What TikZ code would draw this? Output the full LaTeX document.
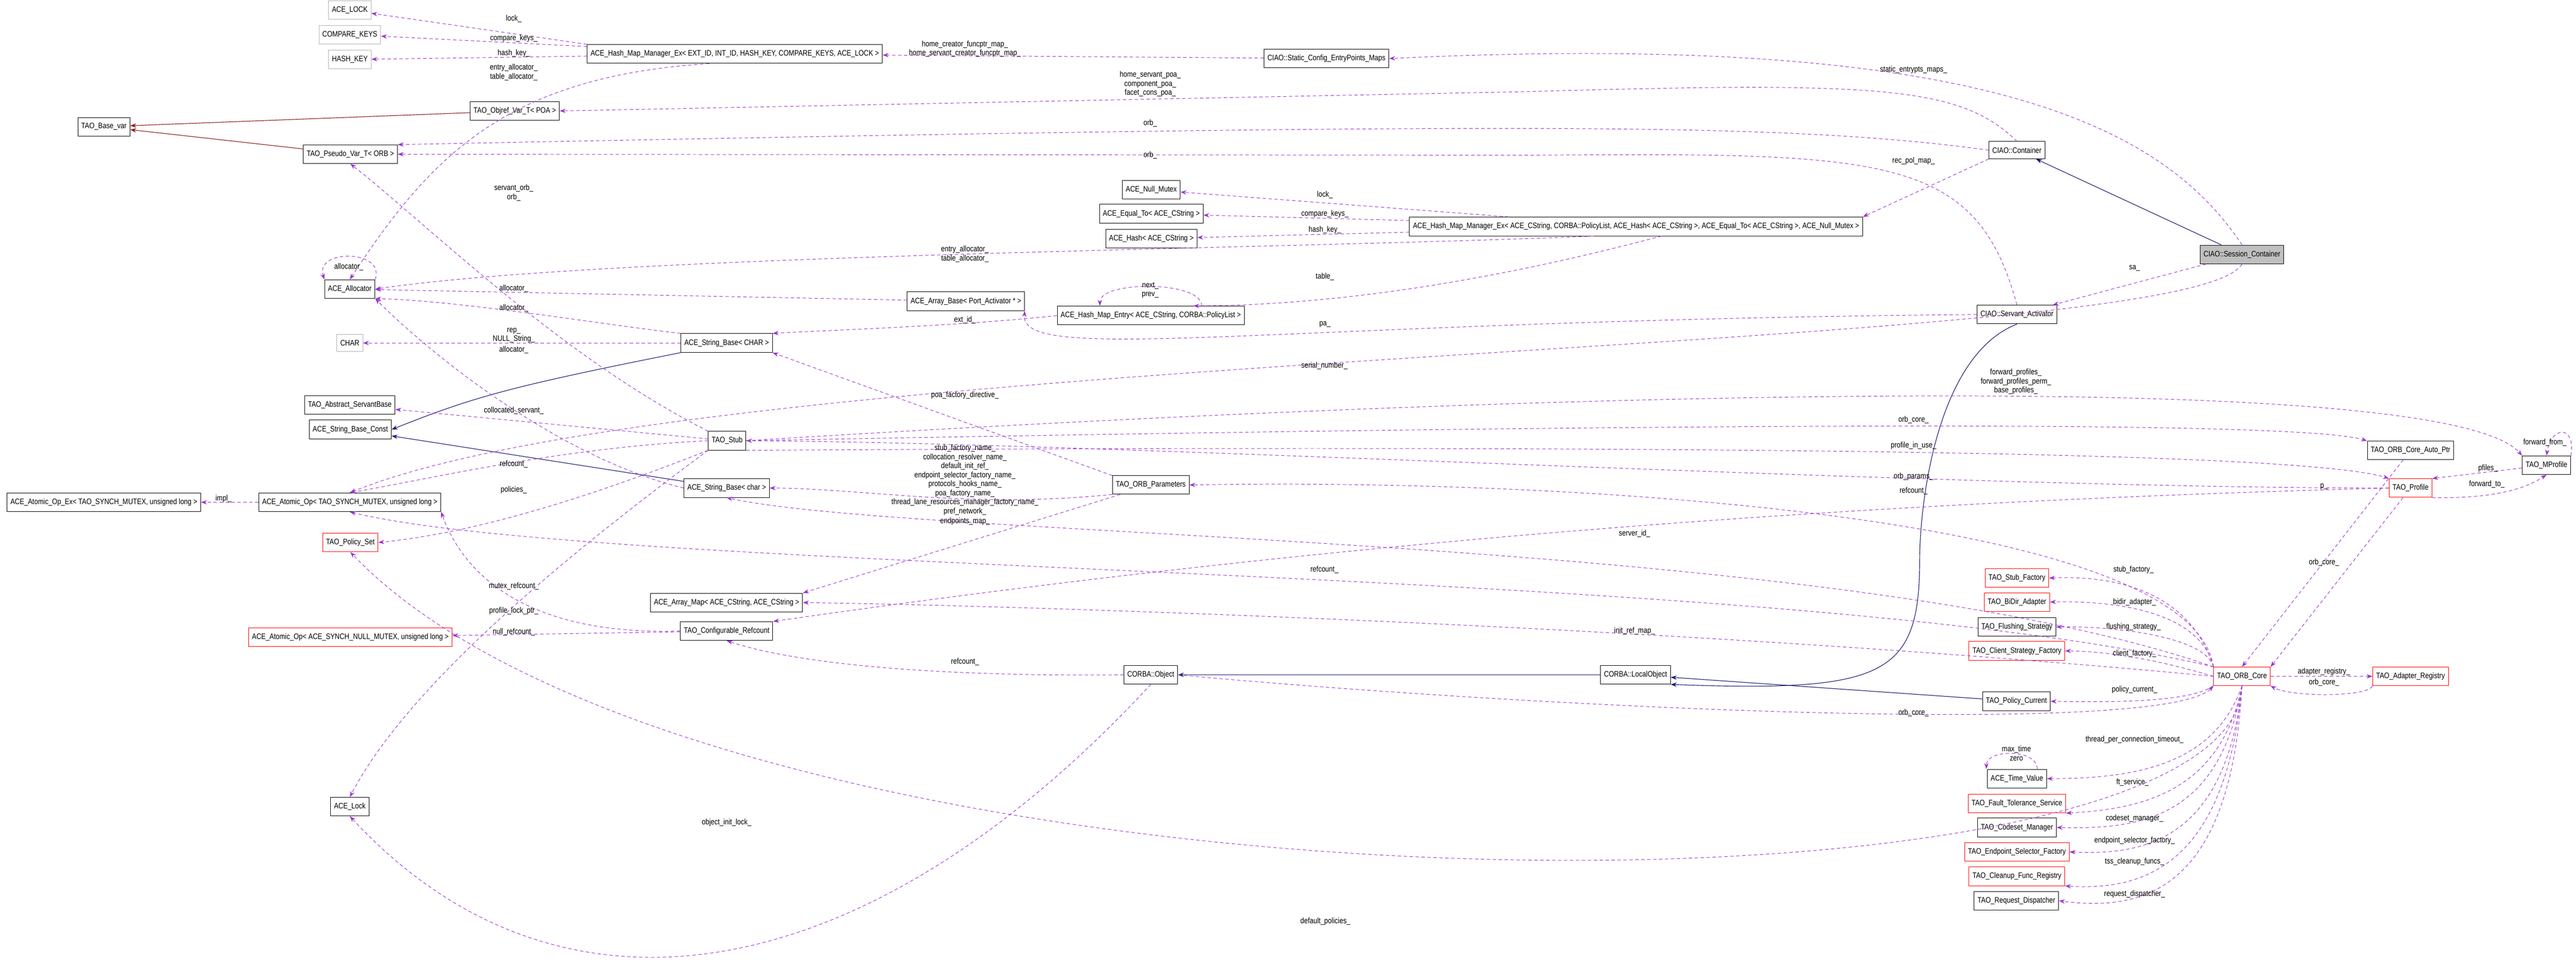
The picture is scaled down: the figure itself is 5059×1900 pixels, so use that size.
\documentclass[tikz,border=0pt]{standalone}
\usepackage{fontspec}
\setmainfont{Liberation Sans}[FakeStretch=0.84]
\usetikzlibrary{arrows.meta}
\definecolor{memb}{HTML}{9A32CD}
\definecolor{inh}{HTML}{191970}
\definecolor{tpl}{HTML}{8B1A1A}
\newcommand{\lblfont}{\fontsize{4.7}{5.3}\selectfont}
\tikzset{
  cls/.style={draw=black, fill=white, font=\lblfont, inner xsep=2pt, minimum height=7.5pt, line width=0.3pt},
  ext/.style={cls, draw=gray!60},
  trunc/.style={cls, draw=red},
  member/.style={draw=memb, dashed, dash pattern=on 2pt off 1.5pt, line width=0.3pt, -{Stealth[length=3.5pt,width=2.5pt]}},
  pub/.style={draw=inh, line width=0.35pt, -{Stealth[length=3.5pt,width=2.5pt]}},
  tmpl/.style={draw=tpl, line width=0.35pt, -{Stealth[length=3.5pt,width=2.5pt]}},
  lbl/.style={font=\lblfont, inner sep=0pt, align=center}
}
\begin{document}
\begin{tikzpicture}[x=0.3pt,y=0.3pt]
\useasboundingbox (0,0) rectangle (5059,-1900);
% classes, left part
\node[ext] (lock) at (687,-20) {ACE\_LOCK};
\node[ext] (cmpkeys) at (687,-68) {COMPARE\_KEYS};
\node[ext] (hashkey) at (687,-117) {HASH\_KEY};
\node[cls] (hmmext) at (1443,-106) {ACE\_Hash\_Map\_Manager\_Ex< EXT\_ID, INT\_ID, HASH\_KEY, COMPARE\_KEYS, ACE\_LOCK >};
\node[cls] (objref) at (1011,-218) {TAO\_Objref\_Var\_T< POA >};
\node[cls] (basevar) at (204,-249) {TAO\_Base\_var};
\node[cls] (pseudo) at (688,-303) {TAO\_Pseudo\_Var\_T< ORB >};
\node[cls] (alloc) at (687,-568) {ACE\_Allocator};
\node[ext] (charn) at (687,-674) {CHAR};
\node[cls] (strCHAR) at (1427,-674) {ACE\_String\_Base< CHAR >};
\node[cls] (servbase) at (687,-796) {TAO\_Abstract\_ServantBase};
\node[cls] (strconst) at (688,-844) {ACE\_String\_Base\_Const};
\node[cls] (stub) at (1428,-866) {TAO\_Stub};
\node[cls] (strchar) at (1427,-959) {ACE\_String\_Base< char >};
\node[cls] (atomex) at (204,-987) {ACE\_Atomic\_Op\_Ex< TAO\_SYNCH\_MUTEX, unsigned long >};
\node[cls] (atomtao) at (687,-987) {ACE\_Atomic\_Op< TAO\_SYNCH\_MUTEX, unsigned long >};
\node[trunc] (polset) at (688,-1066) {TAO\_Policy\_Set};
\node[cls] (arrmap) at (1427,-1184) {ACE\_Array\_Map< ACE\_CString, ACE\_CString >};
\node[cls] (confref) at (1427,-1240) {TAO\_Configurable\_Refcount};
\node[trunc] (atomnull) at (688,-1252) {ACE\_Atomic\_Op< ACE\_SYNCH\_NULL\_MUTEX, unsigned long >};
\node[cls] (acelock) at (687,-1585) {ACE\_Lock};
% classes, middle part
\node[cls] (statcfg) at (2605,-115) {CIAO::Static\_Config\_EntryPoints\_Maps};
\node[cls] (nullmtx) at (2261,-373) {ACE\_Null\_Mutex};
\node[cls] (equalto) at (2261,-420) {ACE\_Equal\_To< ACE\_CString >};
\node[cls] (hashcs) at (2261,-469) {ACE\_Hash< ACE\_CString >};
\node[cls] (hmmcs) at (3213,-445) {ACE\_Hash\_Map\_Manager\_Ex< ACE\_CString, CORBA::PolicyList, ACE\_Hash< ACE\_CString >, ACE\_Equal\_To< ACE\_CString >, ACE\_Null\_Mutex >};
\node[cls] (arrbase) at (1897,-592) {ACE\_Array\_Base< Port\_Activator * >};
\node[cls] (hmentry) at (2260,-620) {ACE\_Hash\_Map\_Entry< ACE\_CString, CORBA::PolicyList >};
\node[cls] (orbparams) at (2260,-953) {TAO\_ORB\_Parameters};
\node[cls] (corbaobj) at (2260,-1326) {CORBA::Object};
\node[cls] (localobj) at (3212,-1326) {CORBA::LocalObject};
% classes, right part
\node[cls] (container) at (3961,-295) {CIAO::Container};
\node[cls, fill=gray!50] (session) at (4403,-500) {CIAO::Session\_Container};
\node[cls] (servact) at (3961,-618) {CIAO::Servant\_Activator};
\node[cls] (autoptr) at (4734,-885) {TAO\_ORB\_Core\_Auto\_Ptr};
\node[cls] (mprofile) at (5001,-914) {TAO\_MProfile};
\node[trunc] (profile) at (4734,-959) {TAO\_Profile};
\node[trunc] (stubfac) at (3961,-1136) {TAO\_Stub\_Factory};
\node[trunc] (bidir) at (3961,-1183) {TAO\_BiDir\_Adapter};
\node[cls] (flush) at (3961,-1232) {TAO\_Flushing\_Strategy};
\node[trunc] (clistrat) at (3961,-1279) {TAO\_Client\_Strategy\_Factory};
\node[trunc] (orbcore) at (4403,-1329) {TAO\_ORB\_Core};
\node[trunc] (adreg) at (4734,-1329) {TAO\_Adapter\_Registry};
\node[cls] (polcur) at (3960,-1378) {TAO\_Policy\_Current};
\node[cls] (timeval) at (3961,-1530) {ACE\_Time\_Value};
\node[trunc] (ftserv) at (3961,-1579) {TAO\_Fault\_Tolerance\_Service};
\node[cls] (codeset) at (3961,-1626) {TAO\_Codeset\_Manager};
\node[trunc] (endpt) at (3961,-1674) {TAO\_Endpoint\_Selector\_Factory};
\node[trunc] (cleanup) at (3961,-1722) {TAO\_Cleanup\_Func\_Registry};
\node[cls] (reqdisp) at (3960,-1770) {TAO\_Request\_Dispatcher};

% inheritance
\draw[tmpl] (objref) -- (basevar);
\draw[tmpl] (pseudo) -- (basevar);
\draw[pub] (strCHAR.south west) .. controls (1000,-760) and (930,-780) .. (strconst.east);
\draw[pub] (strchar) -- (strconst);
\draw[pub] (localobj) -- (corbaobj);
\draw[pub] (polcur) -- (localobj);
\draw[pub] (servact.south) .. controls (3800,-700) and (3770,-1000) .. (3770,-1100) .. controls (3770,-1330) and (3700,-1360) .. (localobj.south east);
\draw[pub] (session) -- (container);

% members, left part
\draw[member] (hmmext.north west) -- (lock);
\draw[member] (hmmext) -- (cmpkeys);
\draw[member] (hmmext) -- (hashkey);
\draw[member] ([xshift=-15pt]hmmext.south) .. controls (1000,-150) and (850,-300) .. (alloc.north);
\draw[member] (statcfg) -- (hmmext);
\draw[member] (alloc.north east) .. controls +(20,60) and +(-20,60) .. (alloc.north west);
\draw[member] (arrbase) -- (alloc);
\draw[member] (strCHAR.north west) .. controls (1200,-640) and (900,-590) .. (alloc.south east);
\draw[member] (strCHAR) -- (charn);
\draw[member] (strchar.west) .. controls (1100,-900) and (850,-700) .. (alloc.south east);
\draw[member] (stub) -- (servbase);
\draw[member] (stub.west) .. controls (1100,-880) and (850,-940) .. (atomtao.north);
\draw[member] (stub.south west) .. controls (1100,-1000) and (900,-1050) .. (polset.east);
\draw[member] (stub.north west) .. controls (1100,-700) and (850,-450) .. (pseudo.south);
\draw[member] (stub.south west) .. controls (1100,-1100) and (800,-1350) .. (acelock.north);
\draw[member] (atomtao) -- (atomex);
\draw[member] (confref.west) .. controls (1000,-1250) and (900,-1100) .. (atomtao.south east);
\draw[member] (confref) -- (atomnull);

% members, middle part
\draw[member] (session.north) .. controls (4250,-250) and (3900,-60) .. (statcfg.east);
\draw[member] (container.north) .. controls (3850,-170) and (3700,-160) .. (3000,-180) -- (objref.east);
\draw[member] (container.west) .. controls (3500,-240) and (3000,-240) .. (pseudo.north east);
\draw[member] (servact.north) .. controls (3880,-300) and (3700,-300) .. (3000,-305) -- (pseudo.east);
\draw[member] (container.south west) -- (hmmcs.north east);
\draw[member] (hmmcs) -- (nullmtx);
\draw[member] (hmmcs) -- (equalto);
\draw[member] (hmmcs) -- (hashcs);
\draw[member] ([xshift=-25pt]hmmcs.south) .. controls (2500,-490) and (1200,-500) .. (alloc.east);
\draw[member] ([xshift=15pt]hmmcs.south) .. controls (2900,-560) and (2600,-600) .. ([xshift=25pt]hmentry.north);
\draw[member] ([xshift=30pt]hmentry.north) .. controls +(0,50) and +(0,50) .. ([xshift=-30pt]hmentry.north);
\draw[member] (hmentry.west) .. controls (1900,-640) and (1600,-650) .. (strCHAR.north east);
\draw[member] (servact.west) .. controls (2500,-630) and (2000,-720) .. (arrbase.south east);
\draw[member] (session) -- (servact);
\draw[member] (session.south) .. controls (4300,-700) and (1400,-680) .. (atomtao.north);
\draw[member] (orbparams.north west) -- (strCHAR.south east);
\draw[member] (orbparams.south west) .. controls (1900,-1000) and (1700,-960) .. (strchar.east);
\draw[member] (orbparams) -- (arrmap.north east);
\draw[member] (corbaobj.west) .. controls (1800,-1330) and (1550,-1300) .. (confref.south);
\draw[member] (corbaobj.south) .. controls (1700,-1950) and (1100,-2050) .. (acelock.south);

% members, right part
\draw[member] (stub.east) .. controls (3000,-770) and (4800,-720) .. (mprofile.north west);
\draw[member] (stub.east) .. controls (3000,-837) and (4500,-820) .. (autoptr.north west);
\draw[member] (stub.south east) .. controls (3000,-876) and (4500,-880) .. (profile.north west);
\draw[member] (profile.west) .. controls (3800,-959) and (2200,-870) .. (stub.east);
\draw[member] (profile.west) .. controls (3500,-990) and (2500,-1080) .. (confref.north east);
\draw[member] (mprofile) -- (profile.north east);
\draw[member] (profile.south east) .. controls (4900,-980) and (4960,-960) .. (mprofile.south);
\draw[member] (mprofile.north east) .. controls +(10,60) and +(10,60) .. (mprofile.north);
\draw[member] (profile) -- (orbcore.north east);
\draw[member] (autoptr) -- (orbcore.north);
\draw[member] (orbcore) -- (adreg);
\draw[member] (adreg.south west) .. controls (4650,-1370) and (4500,-1370) .. (orbcore.south east);
\draw[member] (orbcore.north west) .. controls (4300,-1000) and (3000,-940) .. (orbparams.east);
\draw[member] (orbcore.north west) .. controls (3600,-1050) and (1800,-1060) .. (strchar.south);
\draw[member] (orbcore.north west) .. controls (3500,-1110) and (1200,-1130) .. (atomtao.south);
\draw[member] (orbcore.west) .. controls (3300,-1230) and (2000,-1190) .. (arrmap.east);
\draw[member] (orbcore.north west) .. controls (4300,-1160) and (4150,-1130) .. (stubfac.east);
\draw[member] (orbcore.north west) .. controls (4320,-1200) and (4150,-1180) .. (bidir.east);
\draw[member] (orbcore.north west) .. controls (4330,-1250) and (4150,-1230) .. (flush.east);
\draw[member] (orbcore.west) .. controls (4250,-1300) and (4150,-1280) .. (clistrat.east);
\draw[member] (orbcore.south west) .. controls (4300,-1380) and (4150,-1380) .. (polcur.east);
\draw[member] (corbaobj.east) .. controls (3000,-1390) and (4250,-1450) .. (orbcore.south west);
\draw[member] (orbcore.south) .. controls (4350,-1500) and (4200,-1530) .. (timeval.east);
\draw[member] ([xshift=12pt]timeval.north) .. controls +(0,40) and +(0,40) .. ([xshift=-18pt]timeval.north);
\draw[member] (orbcore.south) .. controls (4360,-1560) and (4200,-1590) .. (ftserv.south east);
\draw[member] (orbcore.south) .. controls (4360,-1610) and (4200,-1630) .. (codeset.east);
\draw[member] (orbcore.south) .. controls (4370,-1660) and (4200,-1680) .. (endpt.east);
\draw[member] (orbcore.south) .. controls (4370,-1710) and (4200,-1750) .. (cleanup.south east);
\draw[member] (orbcore.south) .. controls (4380,-1760) and (4200,-1790) .. (reqdisp.east);
\draw[member] (orbcore.south) .. controls (4390,-1850) and (1400,-1830) .. (polset.south);

% labels
\node[lbl] (l1) at (1009,-37) {lock\_};
\node[lbl] (l2) at (1009,-75) {compare\_keys\_};
\node[lbl] (l3) at (1009,-105) {hash\_key\_};
\node[lbl] (l4) at (1009,-142) {entry\_allocator\_\\table\_allocator\_};
\node[lbl] (l5) at (1895,-96) {home\_creator\_funcptr\_map\_\\home\_servant\_creator\_funcptr\_map\_};
\node[lbl] (l6) at (3758,-137) {static\_entrypts\_maps\_};
\node[lbl] (l7) at (2259,-165) {home\_servant\_poa\_\\component\_poa\_\\facet\_cons\_poa\_};
\node[lbl] (l8) at (2259,-242) {orb\_};
\node[lbl] (l9) at (2259,-305) {orb\_};
\node[lbl] (l10) at (3758,-316) {rec\_pol\_map\_};
\node[lbl] (l11) at (2602,-383) {lock\_};
\node[lbl] (l12) at (2602,-420) {compare\_keys\_};
\node[lbl] (l13) at (2602,-452) {hash\_key\_};
\node[lbl] (l14) at (1895,-499) {entry\_allocator\_\\table\_allocator\_};
\node[lbl] (l15) at (2602,-544) {table\_};
\node[lbl] (l16) at (2259,-570) {next\_\\prev\_};
\node[lbl] (l17) at (1895,-629) {ext\_id\_};
\node[lbl] (l18) at (2602,-637) {pa\_};
\node[lbl] (l19) at (4192,-527) {sa\_};
\node[lbl] (l20) at (685,-525) {allocator\_};
\node[lbl] (l21) at (1009,-567) {allocator\_};
\node[lbl] (l22) at (1009,-605) {allocator\_};
\node[lbl] (l23) at (1009,-659) {rep\_\\NULL\_String\_};
\node[lbl] (l24) at (1009,-687) {allocator\_};
\node[lbl] (l25) at (1009,-379) {servant\_orb\_\\orb\_};
\node[lbl] (l26) at (1009,-807) {collocated\_servant\_};
\node[lbl] (l27) at (1009,-912) {refcount\_};
\node[lbl] (l28) at (1009,-963) {policies\_};
\node[lbl] (l29) at (439,-980) {impl\_};
\node[lbl] (l30) at (1009,-1152) {mutex\_refcount\_};
\node[lbl] (l31) at (1009,-1200) {profile\_lock\_ptr\_};
\node[lbl] (l32) at (1009,-1242) {null\_refcount\_};
\node[lbl] (l33) at (2601,-719) {serial\_number\_};
\node[lbl] (l34) at (1895,-777) {poa\_factory\_directive\_};
\node[lbl] (l35) at (1895,-943) {stub\_factory\_name\_\\collocation\_resolver\_name\_\\default\_init\_ref\_\\endpoint\_selector\_factory\_name\_\\protocols\_hooks\_name\_\\poa\_factory\_name\_\\thread\_lane\_resources\_manager\_factory\_name\_\\pref\_network\_};
\node[lbl] (l36) at (1895,-1024) {endpoints\_map\_};
\node[lbl] (l37) at (3210,-1049) {server\_id\_};
\node[lbl] (l38) at (2601,-1119) {refcount\_};
\node[lbl] (l39) at (3210,-1240) {init\_ref\_map\_};
\node[lbl] (l40) at (1895,-1301) {refcount\_};
\node[lbl] (l41) at (3959,-750) {forward\_profiles\_\\forward\_profiles\_perm\_\\base\_profiles\_};
\node[lbl] (l42) at (3758,-825) {orb\_core\_};
\node[lbl] (l43) at (3758,-876) {profile\_in\_use\_};
\node[lbl] (l44) at (3758,-936) {orb\_params\_};
\node[lbl] (l45) at (3758,-965) {refcount\_};
\node[lbl] (l46) at (4564,-956) {p\_};
\node[lbl] (l47) at (4886,-920) {pfiles\_};
\node[lbl] (l48) at (4884,-951) {forward\_to\_};
\node[lbl] (l49) at (4998,-870) {forward\_from\_};
\node[lbl] (l50) at (4564,-1105) {orb\_core\_};
\node[lbl] (l51) at (4190,-1120) {stub\_factory\_};
\node[lbl] (l52) at (4192,-1183) {bidir\_adapter\_};
\node[lbl] (l53) at (4190,-1232) {flushing\_strategy\_};
\node[lbl] (l54) at (4192,-1284) {client\_factory\_};
\node[lbl] (l55) at (4564,-1320) {adapter\_registry\_};
\node[lbl] (l56) at (4564,-1341) {orb\_core\_};
\node[lbl] (l57) at (4192,-1355) {policy\_current\_};
\node[lbl] (l58) at (3758,-1401) {orb\_core\_};
\node[lbl] (l59) at (4192,-1453) {thread\_per\_connection\_timeout\_};
\node[lbl] (l60) at (3960,-1480) {max\_time\\zero};
\node[lbl] (l61) at (4188,-1537) {ft\_service\_};
\node[lbl] (l62) at (4192,-1608) {codeset\_manager\_};
\node[lbl] (l63) at (4192,-1652) {endpoint\_selector\_factory\_};
\node[lbl] (l64) at (4192,-1693) {tss\_cleanup\_funcs\_};
\node[lbl] (l65) at (4192,-1757) {request\_dispatcher\_};
\node[lbl] (l66) at (1427,-1616) {object\_init\_lock\_};
\node[lbl] (l67) at (2603,-1811) {default\_policies\_};
\end{tikzpicture}
\end{document}
